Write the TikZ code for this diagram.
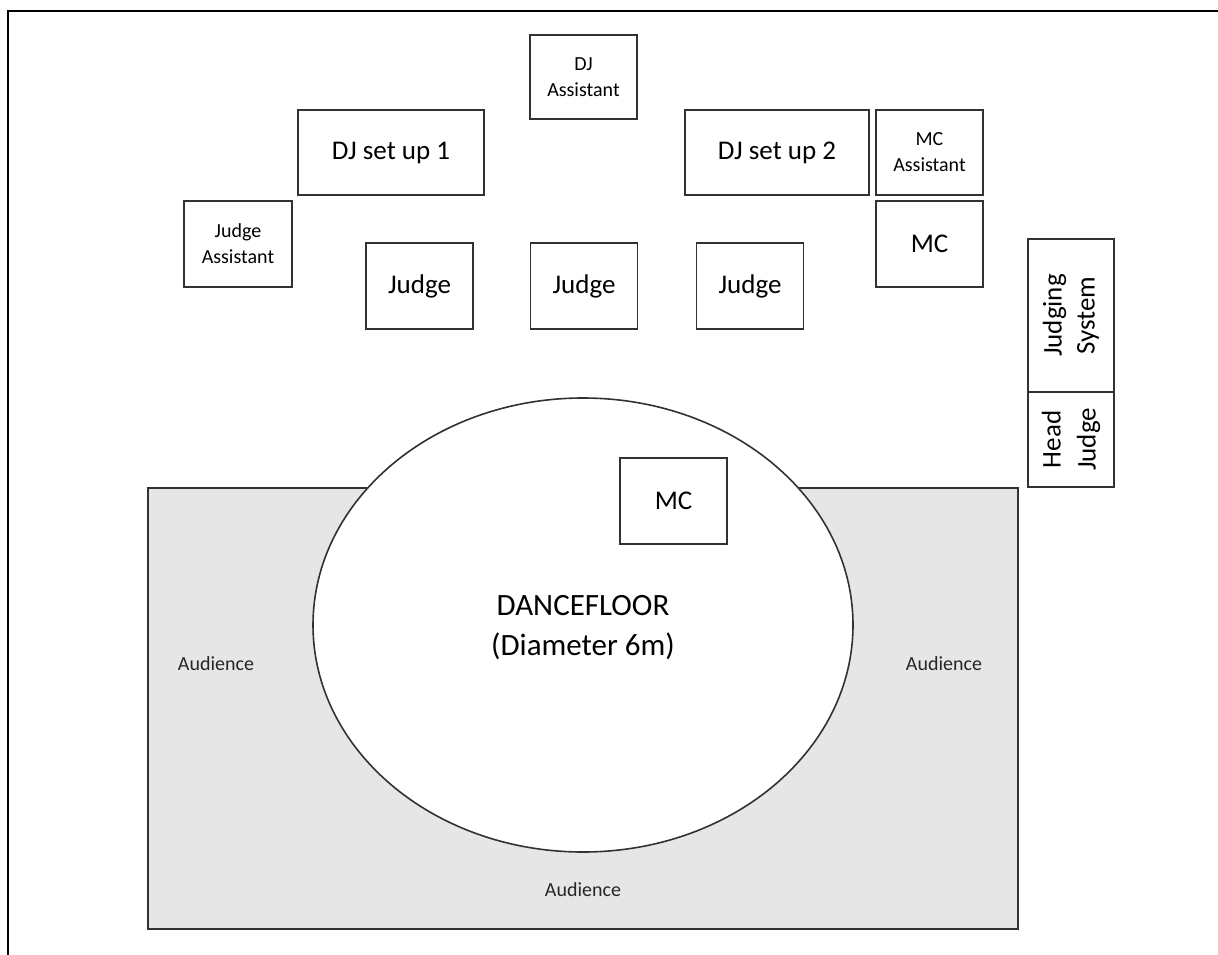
\documentclass[tikz,border=0pt]{standalone}
\usepackage{fontspec}
\setmainfont{Carlito}
\definecolor{crowd}{RGB}{230,230,230}
\definecolor{edge}{RGB}{50,50,50}
\begin{document}
\begin{tikzpicture}[x=1pt,y=-1pt,
    seat/.style={draw=edge,line width=1.6pt,fill=white,inner sep=0pt,align=center,
      minimum width=107pt,minimum height=86pt,font=\fontsize{27}{33}\selectfont},
    smalltext/.style={font=\fontsize{20}{26}\selectfont},
    crowdtext/.style={font=\fontsize{20}{24}\selectfont,text=black!85}]
        \useasboundingbox (0,0) rectangle (1218,955);
        % outer frame
        \draw [line width=2.6pt] (8,955) -- (8,11) -- (1218,11);
        % audience area and dancefloor
        \draw [draw=edge,line width=1.6pt,fill=crowd] (148,488) rectangle (1018,929);
        \draw [draw=edge,line width=1.6pt,fill=white] (583,625) ellipse [x radius=270, y radius=227];
        \node (floor) at (583,628) [font=\fontsize{31}{40}\selectfont,align=center] {DANCEFLOOR\\(Diameter 6m)};
        \node (audL) at (216,664) [crowdtext] {Audience};
        \node (audR) at (944,664) [crowdtext] {Audience};
        \node (audB) at (583,890) [crowdtext] {Audience};
        \node (mcfloor) at (673.5,501) [seat] {MC};
        % DJ booth
        \node (djasst) at (583.5,77) [seat,smalltext,minimum height=84pt] {DJ\\Assistant};
        \node (dj1) at (391,152.5) [seat,minimum width=186pt,minimum height=85pt] {DJ set up 1};
        \node (dj2) at (777,152.5) [seat,minimum width=184pt,minimum height=85pt] {DJ set up 2};
        \node (mcasst) at (929.5,152.5) [seat,smalltext,minimum height=85pt] {MC\\Assistant};
        \node (mc) at (929.5,244) [seat] {MC};
        % judges
        \node (jasst) at (238,244) [seat,smalltext,minimum width=108pt] {Judge\\Assistant};
        \node (judge1) at (419.5,286) [seat] {Judge};
        \node (judge2) at (584,286) [seat] {Judge};
        \node (judge3) at (750,286) [seat] {Judge};
        \node (system) at (1071,315.5) [seat,rotate=90,minimum width=153pt,minimum height=86pt] {Judging\\System};
        \node (head) at (1071,439.5) [seat,rotate=90,minimum width=95pt,minimum height=86pt,font=\fontsize{27}{35}\selectfont] {Head\\Judge};
    \end{tikzpicture}
\end{document}
